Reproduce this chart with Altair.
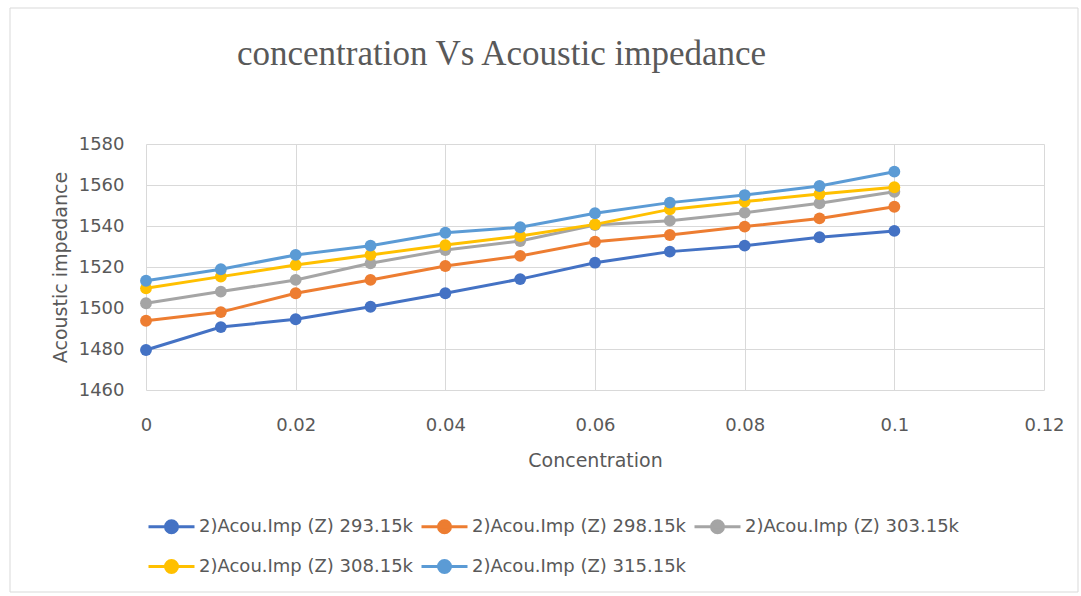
import altair as alt
import pandas as pd

concentration = [0, 0.01, 0.02, 0.03, 0.04, 0.05, 0.06, 0.07, 0.08, 0.09, 0.1]
series_names = [
    "2)Acou.Imp (Z) 293.15k",
    "2)Acou.Imp (Z) 298.15k",
    "2)Acou.Imp (Z) 303.15k",
    "2)Acou.Imp (Z) 308.15k",
    "2)Acou.Imp (Z) 315.15k",
]
z_293 = [1479.5, 1490.7, 1494.5, 1500.6, 1507.2, 1514.1, 1522.1, 1527.5, 1530.4, 1534.5, 1537.6]
z_298 = [1493.8, 1498.0, 1507.2, 1513.7, 1520.5, 1525.4, 1532.3, 1535.6, 1539.7, 1543.7, 1549.4]
z_303 = [1502.3, 1508.0, 1513.7, 1521.8, 1528.3, 1532.7, 1540.5, 1542.6, 1546.5, 1551.1, 1556.7]
z_308 = [1509.6, 1515.3, 1521.0, 1525.9, 1530.7, 1535.1, 1540.8, 1548.1, 1551.9, 1555.6, 1558.9]
z_315 = [1513.3, 1518.9, 1525.9, 1530.4, 1536.7, 1539.4, 1546.2, 1551.4, 1555.1, 1559.5, 1566.5]
colors = ["#4472C4", "#ED7D31", "#A5A5A5", "#FFC000", "#5B9BD5"]

rows = []
for name, vals in zip(series_names, [z_293, z_298, z_303, z_308, z_315]):
    for c, v in zip(concentration, vals):
        rows.append({"Concentration": c, "Z": v, "Series": name})
df = pd.DataFrame(rows)

sym_path = "M-2.3,0L2.3,0M-0.6,0A0.6,0.6,0,1,0,0.6,0A0.6,0.6,0,1,0,-0.6,0Z"

color = alt.Color(
    "Series:N",
    scale=alt.Scale(domain=series_names, range=colors),
    legend=alt.Legend(
        title=None,
        orient="none",
        legendX=14,
        legendY=371,
        direction="horizontal",
        columns=3,
        symbolType=sym_path,
        symbolSize=400,
        symbolStrokeWidth=3,
        labelOffset=16,
        labelFont="DejaVu Sans",
        labelFontSize=18,
        labelColor="#595959",
        labelLimit=400,
        columnPadding=1,
        rowPadding=15,
    ),
)

x = alt.X(
    "Concentration:Q",
    scale=alt.Scale(domain=[0, 0.12], nice=False),
    axis=alt.Axis(
        values=[0, 0.02, 0.04, 0.06, 0.08, 0.1, 0.12],
        format=".2~f",
        labelFlush=False,
        title="Concentration",
        titleX=449, titleY=70, titleBaseline="middle",
        labelPadding=26,
    ),
)
y = alt.Y(
    "Z:Q",
    scale=alt.Scale(domain=[1460, 1580], nice=False, zero=False),
    axis=alt.Axis(
        values=[1460, 1480, 1500, 1520, 1540, 1560, 1580],
        format="d",
        title="Acoustic impedance",
        titleX=-86, titleY=123, titleBaseline="middle", titleAngle=-90,
        labelPadding=22,
    ),
)

lines = alt.Chart(df).mark_line(strokeWidth=3).encode(x=x, y=y, color=color, order="Concentration:Q")
points = alt.Chart(df).mark_circle(size=140, opacity=1).encode(x=x, y=y, color=color)

border = alt.Chart(alt.Data(values=[{"a": 1}])).mark_rect(
    fill=None, stroke="#d9d9d9", strokeWidth=1
).encode(x=alt.value(-136), x2=alt.value(932), y=alt.value(-136), y2=alt.value(448))

chart = alt.layer(border, lines, points).properties(
    width=898,
    height=246,
    autosize=alt.AutoSizeParams(type="none"),
    padding={"left": 146, "top": 144, "right": 37, "bottom": 206},
    title=alt.TitleParams(
        "concentration Vs Acoustic impedance",
        anchor="start",
        frame="group",
        dx=91,
        offset=-92,
        baseline="alphabetic",
        font="Liberation Serif",
        fontSize=35,
        fontWeight="normal",
        color="#595959",
    ),
).configure(background="white").configure_view(stroke=None).configure_axis(
    grid=True,
    gridColor="#d9d9d9",
    gridWidth=1,
    domain=False,
    ticks=False,
    labelFont="DejaVu Sans",
    labelFontSize=18,
    labelColor="#595959",
    titleFont="DejaVu Sans",
    titleFontSize=19,
    titleFontWeight="normal",
    titleColor="#595959",
)

chart.save("out.html", embed_options={"renderer": "svg", "actions": False})
